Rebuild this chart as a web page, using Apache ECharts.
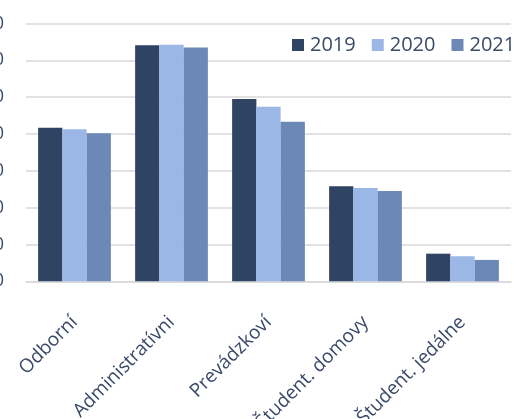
<!DOCTYPE html>
<html>
<head>
<meta charset="utf-8">
<script src="https://cdn.jsdelivr.net/npm/echarts@6/dist/echarts.min.js"></script>
<style>
  html, body { margin: 0; padding: 0; background: #fff; }
  #chart { width: 520px; height: 419px; }
</style>
</head>
<body>
<div id="chart"></div>
<script>
// Staff categories and yearly counts
const categories = ['Odborní', 'Administratívni', 'Prevádzkoví', 'Študent. domovy', 'Študent. jedálne'];
const years = ['2019', '2020', '2021'];
const values2019 = [4170, 6410, 4950, 2580, 750];
const values2020 = [4130, 6420, 4740, 2530, 680];
const values2021 = [4020, 6350, 4330, 2450, 580];
const colors = ['#2F4363', '#9BB7E6', '#6C88B6'];

const textColor = '#3A4A68';
const font = '"Open Sans", "Noto Sans", sans-serif';

const chart = echarts.init(document.getElementById('chart'), null, { renderer: 'canvas' });

const seriesData = [values2019, values2020, values2021];

chart.setOption({
  animation: false,
  backgroundColor: '#ffffff',
  color: colors,
  textStyle: { fontFamily: font },
  legend: {
    data: years,
    orient: 'horizontal',
    left: 287,
    top: 30,
    width: 260,
    itemWidth: 12,
    itemHeight: 12,
    itemGap: 16,
    icon: 'rect',
    textStyle: { color: textColor, fontSize: 20, fontFamily: font, padding: [0, 0, 0, 1] }
  },
  grid: {
    left: 26,
    right: 9,
    top: 23.5,
    bottom: 137.7,
    containLabel: false,
    outerBoundsMode: 'none'
  },
  xAxis: {
    type: 'category',
    data: categories,
    axisLine: { lineStyle: { color: '#d9d9d9', width: 1.5 } },
    axisTick: { show: false },
    axisLabel: {
      rotate: 45,
      interval: 0,
      margin: 38,
      color: textColor,
      fontSize: 19,
      fontFamily: font
    }
  },
  yAxis: {
    type: 'value',
    min: 0,
    max: 7000,
    interval: 1000,
    axisLine: { show: false },
    axisTick: { show: false },
    splitLine: { lineStyle: { color: '#d9d9d9', width: 1.5 } },
    axisLabel: {
      margin: 22,
      color: textColor,
      fontSize: 18,
      fontFamily: font
    }
  },
  series: years.map((y, i) => ({
    name: y,
    type: 'bar',
    data: seriesData[i],
    barGap: '0%',
    barCategoryGap: '25%',
    itemStyle: { color: colors[i] }
  }))
});
</script>
</body>
</html>
